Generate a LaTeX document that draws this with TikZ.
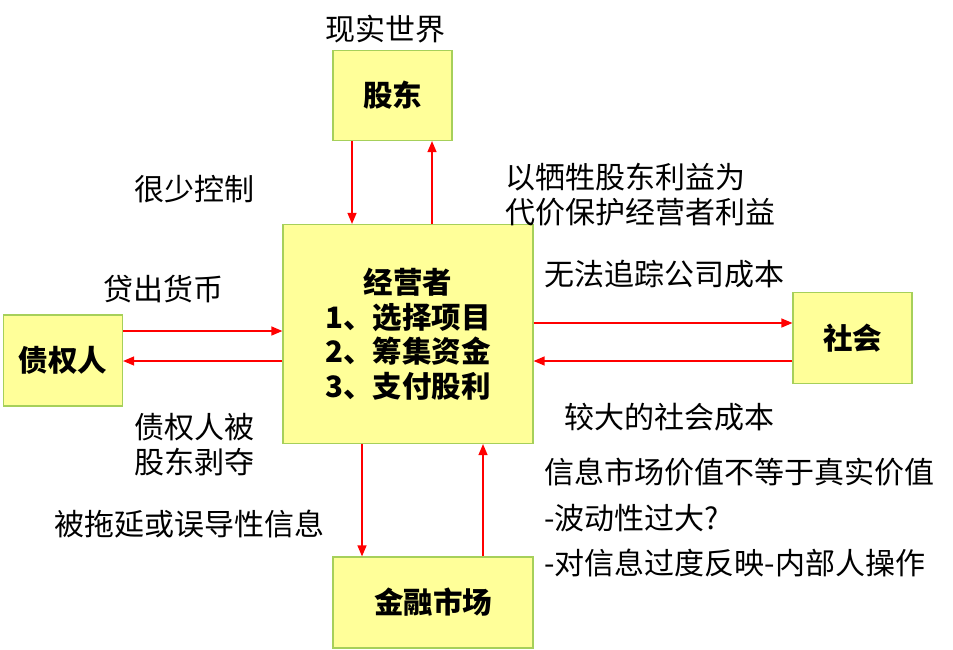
\documentclass[tikz,border=0pt]{standalone}
\usepackage{fontspec}
\setmainfont{Noto Sans CJK SC}
\usetikzlibrary{arrows.meta}
\begin{document}
\begin{tikzpicture}[x=1pt,y=-1pt,
  box/.style={draw=boxline,fill=boxfill,line width=1.2pt,inner sep=0pt,font=\fontsize{29.5}{34.5}\selectfont\bfseries,align=center},
  lbl/.style={inner sep=0pt,font=\fontsize{30}{35}\selectfont},
  arr/.style={draw=red,line width=1.3pt,-{Triangle[length=11pt,width=9pt]}}]
\definecolor{boxfill}{HTML}{FFFF99}
\definecolor{boxline}{HTML}{A6D05A}
\useasboundingbox (0,0) rectangle (953,650);
% boxes
\node[box,minimum width=119pt,minimum height=90pt] (gd) at (392.5,95.5) {股东};
\node[box,minimum width=250pt,minimum height=219pt] (jy) at (408,334) {经营者\\1、选择项目\\2、筹集资金\\3、支付股利};
\node[box,minimum width=119pt,minimum height=91pt] (zq) at (63,360.5) {债权人};
\node[box,minimum width=119pt,minimum height=91pt] (sh) at (852.5,338) {社会};
\node[box,minimum width=200pt,minimum height=91pt,text width=200pt] (jr) at (433,602.5) {\hspace*{0pt}金融市场};
% connector coordinates
\coordinate (xa) at (352,0);
\coordinate (xb) at (432,0);
\coordinate (xc) at (362,0);
\coordinate (xd) at (483,0);
\coordinate (ya) at (0,331);
\coordinate (yb) at (0,361);
\coordinate (yc) at (0,323);
\coordinate (yd) at (0,361);
% arrows
\draw[arr] (gd.south -| xa) -- (jy.north -| xa);
\draw[arr] (jy.north -| xb) -- (gd.south -| xb);
\draw[arr] (zq.east |- ya) -- (jy.west |- ya);
\draw[arr] (jy.west |- yb) -- (zq.east |- yb);
\draw[arr] (jy.east |- yc) -- (sh.west |- yc);
\draw[arr] (sh.west |- yd) -- (jy.east |- yd);
\draw[arr] (jy.south -| xc) -- (jr.north -| xc);
\draw[arr] (jr.north -| xd) -- (jy.south -| xd);
% labels
\node[lbl] (t1) at (385.5,29) {现实世界};
\node[lbl] (t2) at (194,189) {很少控制};
\node[lbl] (t3) at (163,289) {贷出货币};
\node[lbl,anchor=west,align=left] (t4) at (505,194.5) {以牺牲股东利益为\\代价保护经营者利益};
\node[lbl,anchor=west] (t5) at (544,274) {无法追踪公司成本};
\node[lbl,anchor=west] (t6) at (564,417) {较大的社会成本};
\node[lbl,align=center] (t7) at (194,444.5) {债权人被\\股东剥夺};
\node[lbl] (t8) at (189.5,524) {被拖延或误导性信息};
\node[lbl,anchor=west,align=left,font=\fontsize{30}{45.5}\selectfont] (t9) at (544,517.5) {信息市场价值不等于真实价值\\-波动性过大?\\-对信息过度反映-内部人操作};
\end{tikzpicture}
\end{document}
